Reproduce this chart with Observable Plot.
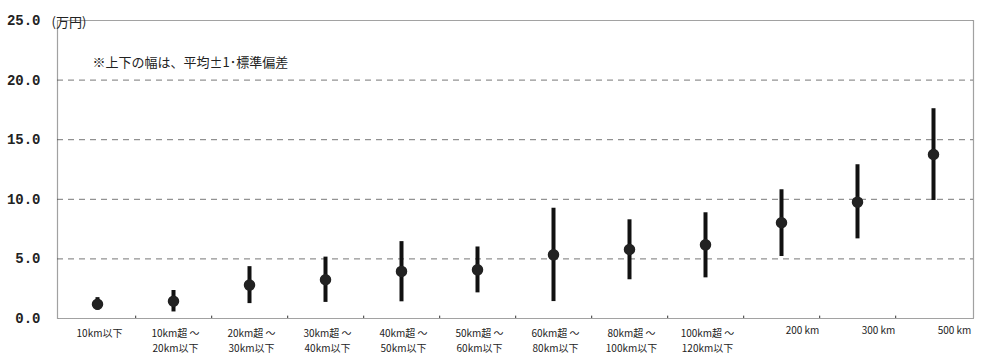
<!DOCTYPE html>
<html>
<head>
<meta charset="utf-8">
<script src="https://cdn.jsdelivr.net/npm/d3@7"></script>
<script src="https://cdn.jsdelivr.net/npm/@observablehq/plot@0.6"></script>
<style>
  html, body { margin: 0; padding: 0; background: #fff; }
  svg { display: block; }
</style>
</head>
<body>
<div id="chart"></div>
<script>
const categories = [
  "10km以下",
  "10km超 ～\n20km以下",
  "20km超 ～\n30km以下",
  "30km超 ～\n40km以下",
  "40km超 ～\n50km以下",
  "50km超 ～\n60km以下",
  "60km超 ～\n80km以下",
  "80km超 ～\n100km以下",
  "100km超 ～\n120km以下",
  "200 km",
  "300 km",
  "500 km"
];
const means = [1.2, 1.45, 2.8, 3.25, 3.95, 4.08, 5.34, 5.79, 6.18, 8.03, 9.76, 13.76];
const lower = [0.7, 0.55, 1.25, 1.35, 1.4, 2.15, 1.42, 3.25, 3.41, 5.2, 6.68, 9.9];
const upper = [1.75, 2.35, 4.35, 5.15, 6.45, 6.0, 9.25, 8.28, 8.87, 10.8, 12.9, 17.6];
const yTicks = [0, 5, 10, 15, 20, 25];
const gridTicks = [5, 10, 15, 20];
const unitLabel = "(万円)";
const note = "※上下の幅は、平均±1･標準偏差";

const data = categories.map((c, i) => ({cat: c, mean: means[i], lo: lower[i], hi: upper[i]}));
const boundaries = categories.slice(0, -1);
const rangeCats = categories.slice(0, 9);
const pointCats = categories.slice(9);

const xAxisStyle = {tickSize: 0, tickPadding: 8, fontSize: 10, lineHeight: 1.5, fill: "#222",
  fontFamily: "'Noto Sans CJK JP', serif"};

const chart = Plot.plot({
  width: 1000,
  height: 362,
  marginLeft: 57,
  marginRight: 27,
  marginTop: 20,
  marginBottom: 44,
  style: {fontFamily: "'Noto Sans CJK JP', sans-serif", color: "#222", background: "#fff"},
  x: {type: "band", domain: categories, padding: 0, label: null},
  y: {type: "linear", domain: [0, 25], label: null},
  marks: [
    Plot.ruleY(gridTicks, {stroke: "#777", strokeWidth: 1, strokeDasharray: "6,5"}),
    Plot.frame({stroke: "#444", strokeWidth: 1.2, strokeDasharray: "1,1"}),
    Plot.ruleX(boundaries, {x: d => d, y1: 0, y2: 0.2, dx: 38.2, stroke: "#333", strokeWidth: 1}),
    Plot.axisY(yTicks, {
      tickSize: 0, tickPadding: 17, tickFormat: d => d.toFixed(1),
      fontFamily: "'Liberation Mono', monospace", fontSize: 14, fontWeight: "bold", fill: "#222"
    }),
    Plot.axisX(rangeCats, {...xAxisStyle, dx: 2}),
    Plot.axisX(pointCats, {...xAxisStyle, dx: 21, lineHeight: 1}),
    Plot.ruleX(data, {x: "cat", y1: "lo", y2: "hi", stroke: "#111", strokeWidth: 4}),
    Plot.dot(data, {x: "cat", y: "mean", r: 5, fill: "#222", stroke: "#222"}),
    Plot.text([unitLabel], {frameAnchor: "top-left", dx: -6, dy: -3, textAnchor: "start", fontSize: 13, fill: "#222"}),
    Plot.text([note], {frameAnchor: "top-left", dx: 35, dy: 37, textAnchor: "start", fontSize: 13, fill: "#222"})
  ]
});
document.getElementById("chart").appendChild(chart);
</script>
</body>
</html>
